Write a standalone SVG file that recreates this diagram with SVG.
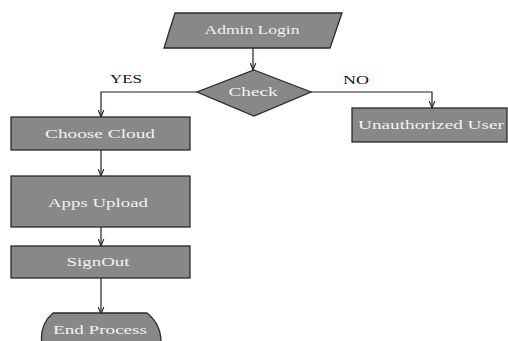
<svg xmlns="http://www.w3.org/2000/svg" width="508" height="341" viewBox="0 0 508 341">
<style>
.shape{fill:#888888;stroke:#2a2a2a;stroke-width:1.3}
.lbl{font-family:"Liberation Serif","Times New Roman",serif;font-size:13px;fill:#f2f2f2;text-anchor:middle}
.yn{font-family:"Liberation Serif","Times New Roman",serif;font-size:12px;fill:#111;text-anchor:middle}
.conn{fill:none;stroke:#222;stroke-width:1.2}
</style>
<defs>
<marker id="ah" viewBox="0 0 10 10" refX="10" refY="5" markerWidth="7" markerHeight="7" orient="auto" markerUnits="userSpaceOnUse">
<path d="M0,1 L10,5 L0,9" fill="none" stroke="#222" stroke-width="1.6"/>
</marker>
</defs>
<rect width="508" height="341" fill="#ffffff"/>
<g id="connectors">
<path class="conn" d="M253,48 V70" marker-end="url(#ah)"/>
<path class="conn" d="M197,92 H101 V117" marker-end="url(#ah)"/>
<path class="conn" d="M311,92 H432 V108" marker-end="url(#ah)"/>
<path class="conn" d="M101,150 V176" marker-end="url(#ah)"/>
<path class="conn" d="M101,227 V246" marker-end="url(#ah)"/>
<path class="conn" d="M101,278 V314" marker-end="url(#ah)"/>
<text class="yn" x="126" y="83" textLength="32" lengthAdjust="spacingAndGlyphs">YES</text>
<text class="yn" x="356" y="84" textLength="26" lengthAdjust="spacingAndGlyphs">NO</text>
</g>
<g id="admin-login">
<polygon class="shape" points="175,13 342,13 330,48 164,48"/>
<text class="lbl" x="252" y="34" textLength="95" lengthAdjust="spacingAndGlyphs">Admin Login</text>
</g>
<g id="check">
<polygon class="shape" points="254,70 311,92 254,116 197,92"/>
<text class="lbl" x="253" y="96" textLength="49" lengthAdjust="spacingAndGlyphs">Check</text>
</g>
<g id="choose-cloud">
<rect class="shape" x="11" y="117" width="179" height="33"/>
<text class="lbl" x="100" y="138" textLength="110" lengthAdjust="spacingAndGlyphs">Choose Cloud</text>
</g>
<g id="unauthorized-user">
<rect class="shape" x="352" y="108" width="155" height="34"/>
<text class="lbl" x="431" y="129" textLength="146" lengthAdjust="spacingAndGlyphs">Unauthorized User</text>
</g>
<g id="apps-upload">
<rect class="shape" x="11" y="176" width="179" height="51"/>
<text class="lbl" x="98" y="207" textLength="100" lengthAdjust="spacingAndGlyphs">Apps Upload</text>
</g>
<g id="signout">
<rect class="shape" x="11" y="246" width="179" height="32"/>
<text class="lbl" x="98" y="266" textLength="63" lengthAdjust="spacingAndGlyphs">SignOut</text>
</g>
<g id="end-process">
<path class="shape" d="M53,313 H147 Q162,325 161,345 H42 Q39,325 53,313 Z"/>
<text class="lbl" x="100" y="334" textLength="94" lengthAdjust="spacingAndGlyphs">End Process</text>
</g>
</svg>
